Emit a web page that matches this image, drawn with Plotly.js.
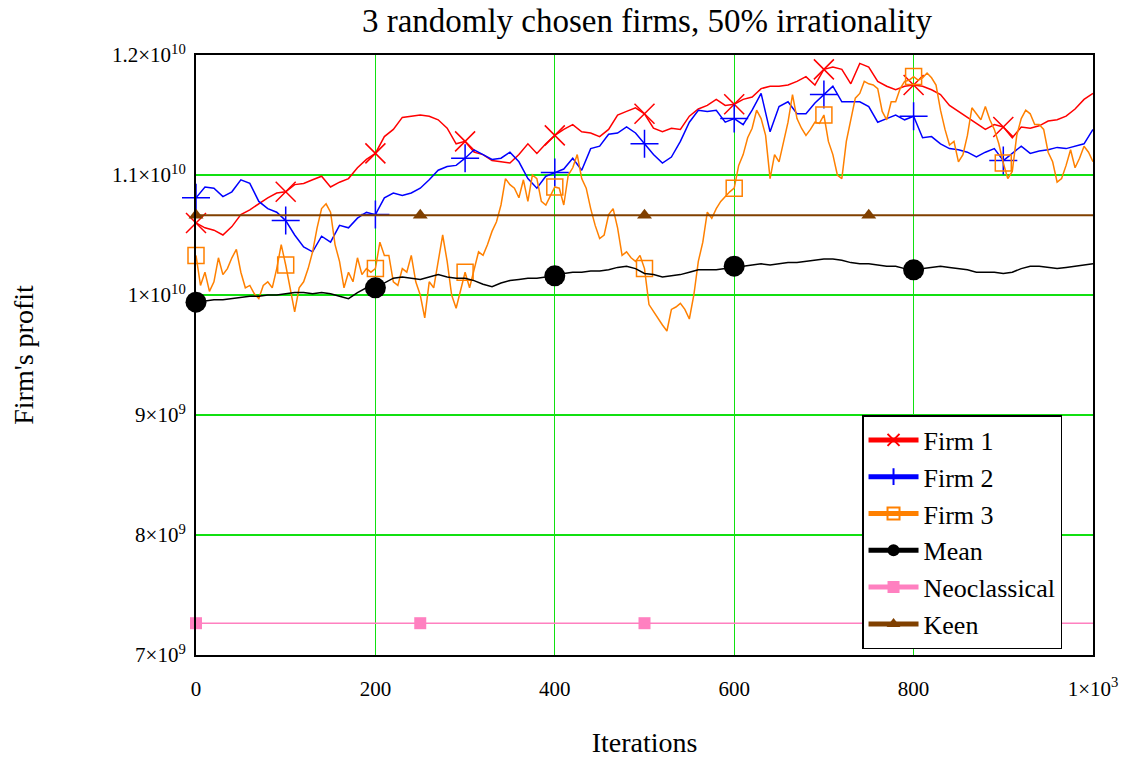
<!DOCTYPE html>
<html>
<head>
<meta charset="utf-8">
<script src="https://cdn.plot.ly/plotly-3.0.1.min.js"></script>
<style>
  html, body { margin: 0; padding: 0; background: #fff; }
  #chart { width: 1130px; height: 758px; }
</style>
</head>
<body>
<div id="chart"></div>
<script>
// ---- Data (profit values in units of 1e9) ----
const UNIT = 1e9;
const firmStep = 10;     // Firm 1, Firm 2, Mean sampled every 10 iterations
const firm3Step = 5;     // Firm 3 sampled every 5 iterations

const firm1 = [
  10.60,10.56,10.54,10.50,10.57,10.67,10.71,10.76,10.81,10.85,
  10.86,10.92,10.93,10.96,10.99,10.90,10.94,10.97,11.06,11.13,
  11.18,11.32,11.38,11.48,11.49,11.50,11.49,11.46,11.39,11.26,
  11.28,11.19,11.17,11.12,11.11,11.10,11.17,11.26,11.18,11.26,
  11.33,11.38,11.42,11.36,11.35,11.32,11.38,11.50,11.53,11.56,
  11.51,11.39,11.36,11.39,11.38,11.49,11.55,11.58,11.63,11.58,
  11.59,11.63,11.65,11.72,11.74,11.74,11.75,11.78,11.82,11.75,
  11.88,11.90,11.88,11.76,11.93,11.90,11.78,11.74,11.71,11.74,
  11.75,11.74,11.71,11.67,11.58,11.53,11.48,11.43,11.38,11.42,
  11.40,11.31,11.40,11.39,11.41,11.45,11.46,11.49,11.55,11.63,
  11.68
];

const firm2 = [
  10.81,10.90,10.89,10.82,10.86,10.96,10.93,10.78,10.72,10.69,
  10.62,10.50,10.40,10.36,10.49,10.44,10.58,10.56,10.64,10.69,
  10.67,10.81,10.85,10.83,10.85,10.89,10.96,11.04,11.07,11.08,
  11.14,11.21,11.17,11.13,11.14,11.19,11.11,10.97,10.89,10.99,
  11.02,11.05,11.14,11.04,11.22,11.24,11.34,11.35,11.40,11.35,
  11.26,11.17,11.10,11.15,11.28,11.44,11.54,11.53,11.54,11.44,
  11.47,11.42,11.54,11.68,11.36,11.57,11.61,11.51,11.51,11.60,
  11.67,11.74,11.61,11.61,11.61,11.57,11.44,11.47,11.50,11.46,
  11.49,11.31,11.32,11.26,11.22,11.21,11.19,11.15,11.19,11.22,
  11.12,11.18,11.24,11.18,11.20,11.21,11.23,11.22,11.24,11.26,
  11.38
];

const firm3 = [
  10.33,10.08,10.19,10.03,10.11,10.31,10.17,10.22,10.31,10.38,
  10.19,10.06,10.08,10.01,9.97,10.08,10.11,10.06,10.22,10.42,
  10.25,10.06,9.86,10.06,10.11,10.22,10.36,10.56,10.72,10.76,
  10.69,10.42,10.28,10.06,10.19,10.11,10.31,10.17,10.22,10.19,
  10.22,10.44,10.33,10.33,10.11,10.08,10.22,10.19,10.33,10.11,
  10.00,9.81,10.11,10.06,10.28,10.50,10.28,10.00,9.89,10.03,
  10.19,10.06,10.22,10.36,10.33,10.42,10.53,10.61,10.75,10.97,
  10.92,10.89,10.81,10.96,10.78,11.00,10.97,10.78,10.75,10.83,
  10.90,10.89,10.75,11.00,11.06,11.17,10.97,10.89,10.72,10.58,
  10.47,10.50,10.67,10.72,10.56,10.33,10.36,10.31,10.28,10.33,
  10.22,9.92,9.86,9.80,9.75,9.70,9.88,9.90,9.93,9.88,
  9.80,10.00,10.28,10.44,10.69,10.64,10.72,10.78,10.82,10.86,
  10.89,11.08,11.17,11.31,11.39,11.54,11.47,11.33,10.97,11.17,
  11.11,11.28,11.44,11.67,11.47,11.39,11.33,11.38,11.44,11.43,
  11.50,11.28,11.17,11.00,10.97,11.28,11.47,11.64,11.68,11.78,
  11.76,11.75,11.72,11.53,11.46,11.61,11.61,11.72,11.78,11.79,
  11.82,11.79,11.81,11.85,11.81,11.75,11.54,11.38,11.25,11.28,
  11.11,11.17,11.33,11.56,11.51,11.46,11.57,11.46,11.38,11.26,
  11.10,10.97,11.03,11.33,11.47,11.54,11.51,11.42,11.42,11.38,
  11.19,11.11,10.94,10.97,11.08,11.21,11.06,11.14,11.24,11.19,
  11.11
];

const meanProfit = [
  9.94,9.95,9.96,9.96,9.97,9.98,9.99,9.99,10.00,10.00,
  10.01,10.02,10.02,10.01,10.02,10.01,9.99,9.97,10.02,10.06,
  10.06,10.10,10.14,10.15,10.14,10.13,10.15,10.17,10.15,10.14,
  10.14,10.12,10.09,10.07,10.10,10.12,10.13,10.14,10.14,10.15,
  10.16,10.18,10.19,10.19,10.20,10.20,10.21,10.23,10.24,10.22,
  10.18,10.17,10.15,10.16,10.17,10.19,10.21,10.21,10.21,10.22,
  10.24,10.24,10.25,10.26,10.25,10.26,10.27,10.27,10.28,10.29,
  10.30,10.30,10.29,10.27,10.26,10.26,10.25,10.24,10.24,10.22,
  10.21,10.22,10.23,10.24,10.23,10.22,10.21,10.19,10.19,10.19,
  10.18,10.19,10.22,10.24,10.24,10.23,10.22,10.23,10.24,10.25,
  10.26
];

const neoclassical = 7.265;
const keen = 10.665;
const refIterations = [0, 250, 500, 750, 1000];

const firmMarkerAt = [0, 100, 200, 300, 400, 500, 600, 700, 800, 900];
const meanMarkerAt = [0, 200, 400, 600, 800];
const refMarkerAt = [0, 250, 500, 750];

const yTickVals = [7, 8, 9, 10, 11, 12];
const yTickText = ['7×10<sup>9</sup>', '8×10<sup>9</sup>', '9×10<sup>9</sup>',
                   '1×10<sup>10</sup>', '1.1×10<sup>10</sup>', '1.2×10<sup>10</sup>'];
const xTickVals = [0, 200, 400, 600, 800, 1000];
const xTickText = ['0', '200', '400', '600', '800', '1×10<sup>3</sup>'];

// ---- Build traces ----
const iters = (arr, step) => arr.map((_, k) => k * step);
const toAbs = arr => arr.map(v => v * UNIT);
const sizes = (xs, at, s) => xs.map(x => at.includes(x) ? s : 0);

const FONT = '"Liberation Serif", "Times New Roman", serif';

function series(name, xs, ys, color, symbol, mSize, at, lineWidth, mLineWidth) {
  return {
    type: 'scatter', mode: 'lines+markers', name: name,
    x: xs, y: ys,
    line: { color: color, width: lineWidth },
    marker: { symbol: symbol, size: sizes(xs, at, mSize), color: color, opacity: 1,
              line: { color: color, width: mLineWidth } },
    cliponaxis: false
  };
}

const x12 = iters(firm1, firmStep);
const x3 = iters(firm3, firm3Step);
const xm = iters(meanProfit, firmStep);

const traces = [
  series('Firm 1', x12, toAbs(firm1), '#ff0000', 'x-thin-open', 20, firmMarkerAt, 1.5, 1.5),
  series('Firm 2', x12, toAbs(firm2), '#0000ff', 'cross-thin-open', 20, firmMarkerAt, 1.5, 1.5),
  series('Firm 3', x3, toAbs(firm3), '#ff8000', 'square-open', 16, firmMarkerAt, 1.5, 1.5),
  series('Mean', xm, toAbs(meanProfit), '#000000', 'circle', 21, meanMarkerAt, 1.5, 0),
  series('Neoclassical', refIterations, refIterations.map(() => neoclassical * UNIT), '#ff80c0', 'square', 12, refMarkerAt, 1.5, 0),
  series('Keen', refIterations, refIterations.map(() => keen * UNIT), '#804000', 'triangle-up', 13, refMarkerAt, 2, 0)
];

const layout = {
  width: 1130, height: 758,
  margin: { l: 196, r: 37, t: 55, b: 103 },
  paper_bgcolor: '#ffffff', plot_bgcolor: '#ffffff',
  font: { family: FONT, size: 22, color: '#000' },
  title: { text: '3 randomly chosen firms, 50% irrationality',
           font: { family: FONT, size: 33, color: '#000' },
           x: 0.5725, xanchor: 'center', y: 0.973, yanchor: 'middle' },
  xaxis: {
    range: [0, 1000], tickvals: xTickVals, ticktext: xTickText,
    showgrid: true, gridcolor: '#11e011', gridwidth: 1.3,
    showline: true, linecolor: '#000', linewidth: 2, mirror: true,
    zeroline: false, ticks: '', ticklabelstandoff: 14,
    tickfont: { family: FONT, size: 21 },
    title: { text: 'Iterations', font: { family: FONT, size: 28 }, standoff: 33 }
  },
  yaxis: {
    range: [7 * UNIT, 12 * UNIT], tickvals: yTickVals.map(v => v * UNIT), ticktext: yTickText,
    showgrid: true, gridcolor: '#11e011', gridwidth: 1.3,
    showline: true, linecolor: '#000', linewidth: 2, mirror: true,
    zeroline: false, ticks: '', ticklabelstandoff: 4,
    tickfont: { family: FONT, size: 21 },
    title: { text: "Firm's profit", font: { family: FONT, size: 28 }, standoff: 70 }
  },
  showlegend: true,
  legend: {
    x: 0.7425, y: 0.40, xanchor: 'left', yanchor: 'top',
    bgcolor: '#ffffff', bordercolor: '#000', borderwidth: 1.5,
    font: { family: FONT, size: 26, color: '#000' },
    itemsizing: 'constant', itemwidth: 50, tracegroupgap: 0
  }
};

Plotly.newPlot('chart', traces, layout, { displayModeBar: false, staticPlot: true });
</script>
</body>
</html>
